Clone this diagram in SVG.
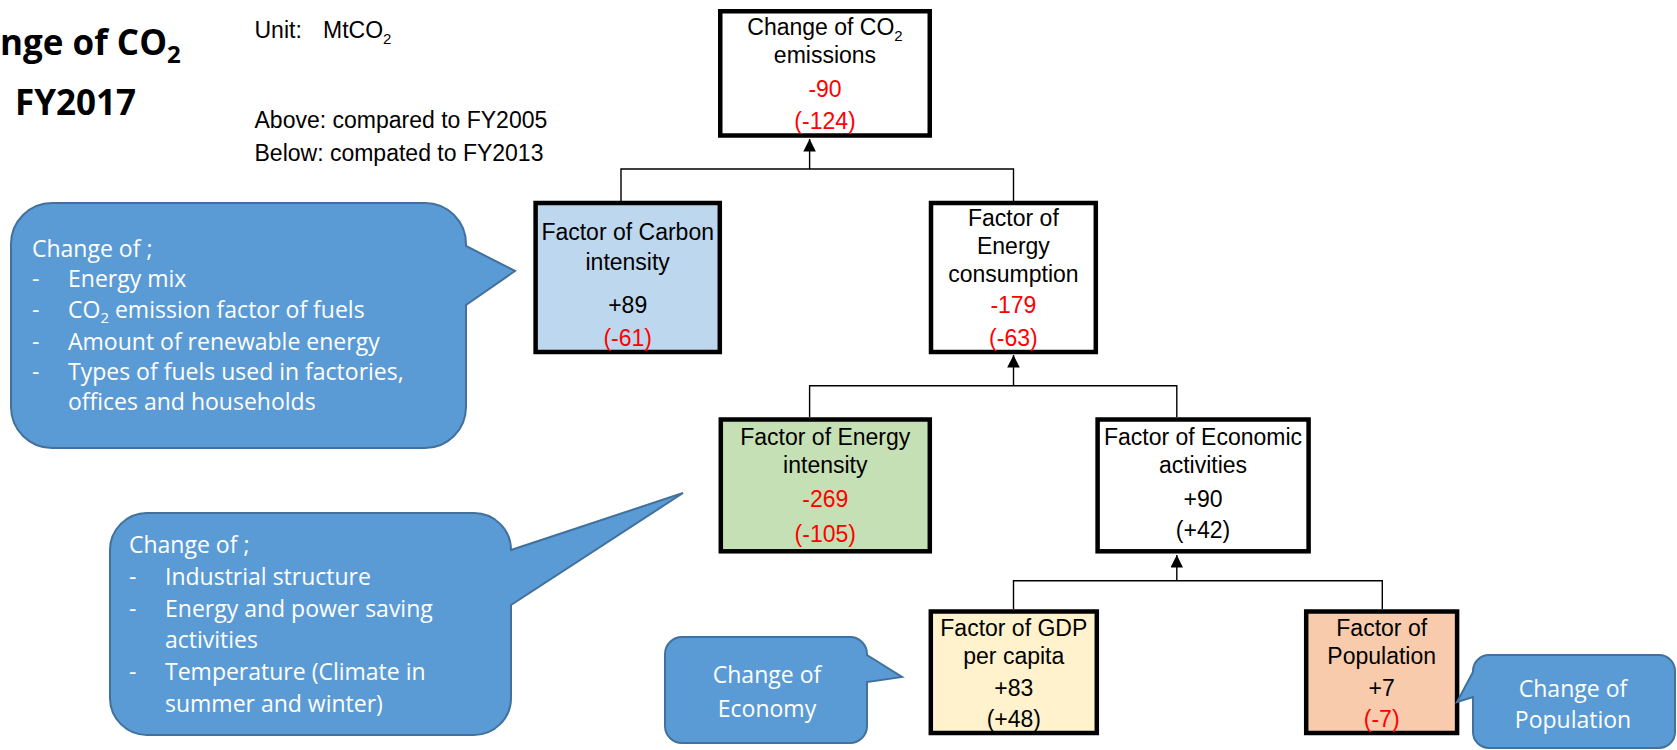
<svg xmlns="http://www.w3.org/2000/svg" width="1677" height="750" viewBox="0 0 1677 750">
<style>
.box{stroke:#000;stroke-width:4.5}
.t{font-family:'Liberation Sans',Arial,sans-serif;font-size:23px;text-anchor:middle;fill:#000}
.red{fill:#FF0000}
.note{font-family:'Liberation Sans',Arial,sans-serif;font-size:23px;fill:#000}
.bub{fill:#5B9BD5;stroke:#41719C;stroke-width:2}
.bt{font-family:'Open Sans',sans-serif;font-size:23px;fill:#fff}
.btc{font-family:'Open Sans',sans-serif;font-size:23px;fill:#fff;text-anchor:middle}
.con{fill:none;stroke:#000;stroke-width:1.4}
</style>
<defs>
<marker id="ah" viewBox="0 0 12 12" refX="12" refY="6" markerWidth="12.6" markerHeight="12.6" markerUnits="userSpaceOnUse" orient="auto">
<path d="M0,0 L12,6 L0,12 Z" fill="#000"/>
</marker>
</defs>

<g id="title">
<text x="0" y="55" font-family="'Open Sans',sans-serif" font-weight="700" font-size="35" fill="#000">nge of CO<tspan font-size="24" dy="8">2</tspan></text>
<text x="15" y="115" font-family="'Open Sans',sans-serif" font-weight="700" font-size="35" fill="#000">FY2017</text>
</g>

<g id="notes">
<text class="note" x="254.5" y="38">Unit:<tspan x="323">MtCO</tspan><tspan font-size="15" dy="6">2</tspan></text>
<text class="note" x="254.5" y="128">Above: compared to FY2005</text>
<text class="note" x="254.5" y="161">Below: compated to FY2013</text>
</g>

<g id="connectors">
<path class="con" d="M621,201 V169 H1013.5 V201"/>
<line class="con" x1="809.6" y1="169" x2="809.6" y2="139" marker-end="url(#ah)"/>
<path class="con" d="M809.6,417 V385.7 H1176.8 V417"/>
<line class="con" x1="1013.5" y1="385.7" x2="1013.5" y2="355" marker-end="url(#ah)"/>
<path class="con" d="M1013.5,609 V580.7 H1382.3 V609"/>
<line class="con" x1="1176.8" y1="580.7" x2="1176.8" y2="555" marker-end="url(#ah)"/>
</g>

<g id="node-co2">
<rect class="box" x="720.25" y="11.25" width="209.5" height="124.25" fill="#fff"/>
<text class="t" x="825" y="35">Change of CO<tspan font-size="15" dy="6">2</tspan></text>
<text class="t" x="825" y="63.3">emissions</text>
<text class="t red" x="825" y="96.7">-90</text>
<text class="t red" x="825" y="129">(-124)</text>
</g>

<g id="node-carbon">
<rect class="box" x="535.6" y="203" width="184.2" height="149" fill="#BDD7EE"/>
<text class="t" x="627.7" y="240">Factor of Carbon</text>
<text class="t" x="627.7" y="270">intensity</text>
<text class="t" x="627.7" y="313.3">+89</text>
<text class="t red" x="627.7" y="345.7">(-61)</text>
</g>

<g id="node-consumption">
<rect class="box" x="931" y="203" width="164.8" height="149" fill="#fff"/>
<text class="t" x="1013.4" y="226">Factor of</text>
<text class="t" x="1013.4" y="254">Energy</text>
<text class="t" x="1013.4" y="281.7">consumption</text>
<text class="t red" x="1013.4" y="313.3">-179</text>
<text class="t red" x="1013.4" y="345.7">(-63)</text>
</g>

<g id="node-energy-intensity">
<rect class="box" x="720.8" y="419.5" width="209" height="131.8" fill="#C5E0B4"/>
<text class="t" x="825.3" y="445">Factor of Energy</text>
<text class="t" x="825.3" y="473.3">intensity</text>
<text class="t red" x="825.3" y="507.3">-269</text>
<text class="t red" x="825.3" y="541.7">(-105)</text>
</g>

<g id="node-economic">
<rect class="box" x="1097.6" y="419.5" width="211" height="131.8" fill="#fff"/>
<text class="t" x="1203" y="445">Factor of Economic</text>
<text class="t" x="1203" y="473.3">activities</text>
<text class="t" x="1203" y="507">+90</text>
<text class="t" x="1203" y="538">(+42)</text>
</g>

<g id="node-gdp">
<rect class="box" x="930.8" y="611.5" width="166" height="121.5" fill="#FFF2CC"/>
<text class="t" x="1013.8" y="636">Factor of GDP</text>
<text class="t" x="1013.8" y="664">per capita</text>
<text class="t" x="1013.8" y="696">+83</text>
<text class="t" x="1013.8" y="727">(+48)</text>
</g>

<g id="node-population">
<rect class="box" x="1306.2" y="611.5" width="150.9" height="121.5" fill="#F8CBAD"/>
<text class="t" x="1381.7" y="636">Factor of</text>
<text class="t" x="1381.7" y="664">Population</text>
<text class="t" x="1381.7" y="696">+7</text>
<text class="t red" x="1381.7" y="727">(-7)</text>
</g>

<g id="callout-carbon">
<path class="bub" d="M52,203 H425 A41,41 0 0 1 466,244 V246 L515,271 L466,305 V407 A41,41 0 0 1 425,448 H52 A41,41 0 0 1 11,407 V244 A41,41 0 0 1 52,203 Z"/>
<text class="bt" x="32" y="257">Change of ;</text>
<text class="bt" x="32" y="287">-</text><text class="bt" x="68" y="287">Energy mix</text>
<text class="bt" x="32" y="318">-</text><text class="bt" x="68" y="318">CO<tspan font-size="15" dy="5">2</tspan><tspan dy="-5"> emission factor of fuels</tspan></text>
<text class="bt" x="32" y="350">-</text><text class="bt" x="68" y="350">Amount of renewable energy</text>
<text class="bt" x="32" y="380">-</text><text class="bt" x="68" y="380">Types of fuels used in factories,</text>
<text class="bt" x="68" y="410">offices and households</text>
</g>

<g id="callout-energy-intensity">
<path class="bub" d="M147,513 H474 A37,37 0 0 1 511,550 L683,493 L511,605 V698 A37,37 0 0 1 474,735 H147 A37,37 0 0 1 110,698 V550 A37,37 0 0 1 147,513 Z"/>
<text class="bt" x="129" y="553">Change of ;</text>
<text class="bt" x="129" y="585">-</text><text class="bt" x="165" y="585">Industrial structure</text>
<text class="bt" x="129" y="617">-</text><text class="bt" x="165" y="617">Energy and power saving</text>
<text class="bt" x="165" y="648">activities</text>
<text class="bt" x="129" y="680">-</text><text class="bt" x="165" y="680">Temperature (Climate in</text>
<text class="bt" x="165" y="712">summer and winter)</text>
</g>

<g id="callout-economy">
<path class="bub" d="M682,637 H850 A17,17 0 0 1 867,654 V655 L902,677 L867,682 V726 A17,17 0 0 1 850,743 H682 A17,17 0 0 1 665,726 V654 A17,17 0 0 1 682,637 Z"/>
<text class="btc" x="767" y="683">Change of</text>
<text class="btc" x="767" y="717">Economy</text>
</g>

<g id="callout-population">
<path class="bub" d="M1489,655 H1659 A16,16 0 0 1 1675,671 V732 A16,16 0 0 1 1659,748 H1489 A16,16 0 0 1 1473,732 V697 L1457,702 L1473,672 V671 A16,16 0 0 1 1489,655 Z"/>
<text class="btc" x="1573" y="697">Change of</text>
<text class="btc" x="1573" y="728">Population</text>
</g>
</svg>
